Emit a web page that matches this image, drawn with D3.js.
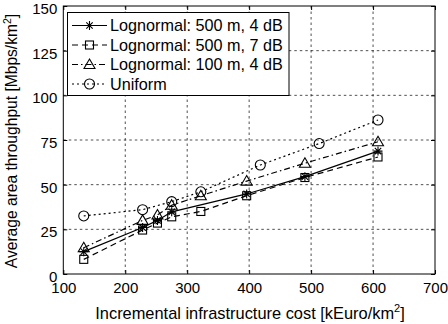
<!DOCTYPE html>
<html><head><meta charset="utf-8">
<script src="https://cdn.jsdelivr.net/npm/d3@7"></script>
<style>body{margin:0;background:#fff}svg{display:block;font-family:"Liberation Sans",Arial,sans-serif}</style>
</head><body>
<svg id="c" width="448" height="324"></svg>
<script>
const seriesNames = ["Lognormal: 500 m, 4 dB","Lognormal: 500 m, 7 dB","Lognormal: 100 m, 4 dB","Uniform"];
const xStar = [133, 228, 252, 275, 396, 490, 608];
const yStar = [12.5, 26, 30, 34.8, 44.8, 54.5, 68.8];
const xSquare = [133, 228, 252, 275, 322, 396, 490, 608];
const ySquare = [8.2, 24.6, 28.5, 32, 35, 43.8, 54, 65.5];
const xTriangle = [133, 228, 252, 275, 322, 396, 490, 608];
const yTriangle = [14.7, 30, 33, 38.5, 43.8, 52, 62, 74];
const xCircle = [133, 228, 275, 322, 418, 513, 608];
const yCircle = [32.5, 36, 40.5, 46, 61, 73, 86.2];
const xTicks = [100,200,300,400,500,600,700];
const yTicks = [0,25,50,75,100,125,150];

const svg = d3.select("#c");
const L=63.3, R=435, T=6, B=274;
const x = d3.scaleLinear().domain([100,700]).range([L,R]);
const y = d3.scaleLinear().domain([0,150]).range([B,T]);
const fs = 15;

// grid
const g = svg.append("g");
g.selectAll(".vg").data(xTicks.slice(1,-1)).join("line")
  .attr("x1",d=>x(d)).attr("x2",d=>x(d)).attr("y1",T).attr("y2",B)
  .attr("stroke","#222").attr("stroke-width",0.8).attr("stroke-dasharray","2.5,3");
g.selectAll(".hg").data(yTicks.slice(1,-1)).join("line")
  .attr("y1",d=>y(d)).attr("y2",d=>y(d)).attr("x1",L).attr("x2",R)
  .attr("stroke","#222").attr("stroke-width",0.8).attr("stroke-dasharray","2.5,3");

// axes
const ax = d3.axisBottom(x).tickValues(xTicks).tickSize(-4).tickPadding(8).tickFormat(d3.format("d"));
const ay = d3.axisLeft(y).tickValues(yTicks).tickSize(-4).tickPadding(6);
const axT = d3.axisTop(x).tickValues(xTicks).tickSize(-4).tickFormat("");
const ayR = d3.axisRight(y).tickValues(yTicks).tickSize(-4).tickFormat("");
function style(sel){ sel.selectAll("path.domain").remove(); sel.selectAll("line").attr("stroke","#000");
  sel.selectAll("text").attr("fill","#000").style("font-size",fs+"px").style("font-family","Liberation Sans, Arial, sans-serif"); }
svg.append("g").attr("transform",`translate(0,${B})`).call(ax).call(style);
svg.append("g").attr("transform",`translate(${L},0)`).call(ay).call(style)
  .selectAll("text").attr("dy","0.5em");
svg.append("g").attr("transform",`translate(0,${T})`).call(axT).call(style);
svg.append("g").attr("transform",`translate(${R},0)`).call(ayR).call(style);
svg.append("rect").attr("x",L).attr("y",T).attr("width",R-L).attr("height",B-T)
  .attr("fill","none").attr("stroke","#000").attr("stroke-width",1);

// markers
function marker(sel, type){
  if(type==="star"){
    sel.append("path").attr("d","M-4.5,0H4.5M0,-4.5V4.5M-3.2,-3.2L3.2,3.2M-3.2,3.2L3.2,-3.2")
      .attr("stroke","#000").attr("stroke-width",1.1).attr("fill","none");
  } else if(type==="square"){
    sel.append("rect").attr("x",-4).attr("y",-4).attr("width",8).attr("height",8)
      .attr("fill","none").attr("stroke","#000").attr("stroke-width",1.1);
  } else if(type==="triangle"){
    sel.append("path").attr("d","M0,-5.5L5.5,4L-5.5,4Z").attr("fill","none").attr("stroke","#000").attr("stroke-width",1.1);
  } else {
    sel.append("circle").attr("r",5).attr("fill","none").attr("stroke","#000").attr("stroke-width",1.1);
  }
}
const series = [
  {name:seriesNames[0], xs:xStar, ys:yStar, type:"star", dash:null},
  {name:seriesNames[1], xs:xSquare, ys:ySquare, type:"square", dash:"6,4"},
  {name:seriesNames[2], xs:xTriangle, ys:yTriangle, type:"triangle", dash:"6,3,1.5,3"},
  {name:seriesNames[3], xs:xCircle, ys:yCircle, type:"circle", dash:"2,3"}
];
const line = d3.line().x(d=>x(d[0])).y(d=>y(d[1]));
series.forEach(s=>{
  const pts = s.xs.map((v,i)=>[v,s.ys[i]]);
  svg.append("path").datum(pts).attr("d",line).attr("fill","none").attr("stroke","#000")
    .attr("stroke-width",1.2).attr("stroke-dasharray",s.dash);
  pts.forEach(p=>{ marker(svg.append("g").attr("transform",`translate(${x(p[0])},${y(p[1])})`), s.type); });
});

// legend
const lg = svg.append("g");
lg.append("rect").attr("x",67.5).attr("y",12.5).attr("width",221.5).attr("height",83)
  .attr("fill","#fff").attr("stroke","#000").attr("stroke-width",1);
series.forEach((s,i)=>{
  const ly = 25.5 + i*19.5;
  lg.append("line").attr("x1",72).attr("x2",107).attr("y1",ly).attr("y2",ly)
    .attr("stroke","#000").attr("stroke-width",1.2).attr("stroke-dasharray",s.dash);
  marker(lg.append("g").attr("transform",`translate(89.5,${ly})`), s.type);
  lg.append("text").attr("x",110).attr("y",ly).attr("dy","0.36em").style("font-size","16.2px").text(s.name);
});

// axis labels
const xl = svg.append("text").attr("x",250).attr("y",319).attr("text-anchor","middle").style("font-size","16.4px");
xl.append("tspan").text("Incremental infrastructure cost [kEuro/km");
xl.append("tspan").attr("dy",-7).style("font-size","11px").text("2");
xl.append("tspan").attr("dy",7).text("]");
const yl = svg.append("text").attr("transform",`translate(17,141) rotate(-90)`).attr("text-anchor","middle").style("font-size","15.6px");
yl.append("tspan").text("Average area throughput [Mbps/km");
yl.append("tspan").attr("dy",-6).style("font-size","10.5px").text("2");
yl.append("tspan").attr("dy",6).text("]");
</script>
</body></html>
